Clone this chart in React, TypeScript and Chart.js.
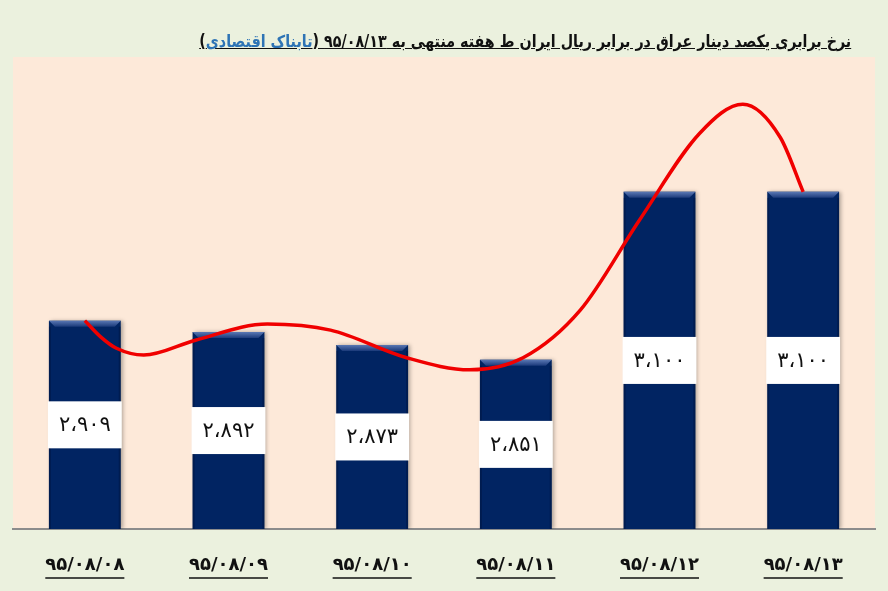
import { useEffect, useRef } from "react";
import { Chart, registerables } from "chart.js";

Chart.register(...registerables);

// dates (Persian digits) and rial price of 100 Iraqi dinars
const categories = ["۹۵/۰۸/۰۸", "۹۵/۰۸/۰۹", "۹۵/۰۸/۱۰", "۹۵/۰۸/۱۱", "۹۵/۰۸/۱۲", "۹۵/۰۸/۱۳"];
const rates = [2909, 2892, 2873, 2851, 3100, 3100];

// red freehand trend curve, x in category units (0 = first bar), y in rials
const curveX = [0, 0.11, 0.22, 0.41, 0.77, 1.27, 1.71, 2.24, 2.68, 3.05, 3.45, 3.86, 4.28, 4.58, 4.84, 5.0];
const curveY = [2909, 2885, 2868, 2858, 2880, 2904, 2895, 2854, 2836, 2854, 2925, 3058, 3187, 3230, 3181, 3100];

const Y_MIN = 2600;
const Y_MAX = 3300;

const FONT = '"DejaVu Sans", sans-serif';

const faDigits = "۰۱۲۳۴۵۶۷۸۹";
function toFa(n: number) {
  const s = n.toString().replace(/\B(?=(\d{3})+(?!\d))/g, "،");
  return s.replace(/\d/g, (d) => faDigits[+d]);
}

const decor = {
  id: "decor",
  beforeDraw(chart: any) {
    const { ctx, chartArea: a } = chart;
    ctx.save();
    ctx.fillStyle = "#ebf1de";
    ctx.fillRect(0, 0, chart.width, chart.height);
    ctx.fillStyle = "#fde9d9";
    ctx.fillRect(a.left, a.top, a.right - a.left, a.bottom - a.top);
    ctx.restore();
  },
  beforeDatasetDraw(chart: any, args: any) {
    if (args.meta.type !== "bar") return;
    const ctx = chart.ctx;
    ctx.save();
    ctx.shadowColor = "rgba(0,0,0,0.3)";
    ctx.shadowBlur = 4;
    ctx.shadowOffsetX = 2;
    ctx.shadowOffsetY = 0;
  },
  afterDatasetDraw(chart: any, args: any) {
    if (args.meta.type !== "bar") return;
    const ctx = chart.ctx;
    ctx.restore();
    ctx.save();
    const bottom = chart.chartArea.bottom;
    args.meta.data.forEach((el: any, i: number) => {
      const l = el.x - el.width / 2;
      const r = el.x + el.width / 2;
      const t = el.y;
      const base = Math.min(el.base, bottom);
      const b = 6;
      // top bevel
      const g = ctx.createLinearGradient(0, t, 0, t + b);
      g.addColorStop(0, "#5a78b4");
      g.addColorStop(1, "#1b3a7a");
      ctx.fillStyle = g;
      ctx.beginPath();
      ctx.moveTo(l, t);
      ctx.lineTo(r, t);
      ctx.lineTo(r - b, t + b);
      ctx.lineTo(l + b, t + b);
      ctx.closePath();
      ctx.fill();
      // darker side edges
      ctx.fillStyle = "rgba(0,10,40,0.3)";
      ctx.fillRect(l, t + b, 2, base - t - b);
      ctx.fillRect(r - 2, t + b, 2, base - t - b);
      // value box
      const mid = (t + base) / 2;
      const bh = 47;
      ctx.fillStyle = "#ffffff";
      ctx.fillRect(l - 1, mid - bh / 2, r - l + 2, bh);
      ctx.fillStyle = "#111111";
      ctx.font = "21px " + FONT;
      ctx.textAlign = "center";
      ctx.textBaseline = "middle";
      ctx.fillText(toFa(rates[i]), el.x, mid + 1);
    });
    ctx.restore();
  },
  afterDraw(chart: any) {
    const { ctx } = chart;
    const xs = chart.scales.x;
    ctx.save();
    ctx.font = "bold 18px " + FONT;
    ctx.strokeStyle = "#111111";
    ctx.lineWidth = 1.5;
    categories.forEach((c, i) => {
      const x = xs.getPixelForTick(i);
      const w = ctx.measureText(c).width;
      ctx.beginPath();
      ctx.moveTo(x - w / 2, 578);
      ctx.lineTo(x + w / 2, 578);
      ctx.stroke();
    });
    ctx.restore();
  },
};

function RateChart() {
  const canvasRef = useRef<HTMLCanvasElement>(null);

  useEffect(() => {
    if (!canvasRef.current) return;
    const chart = new Chart(canvasRef.current, {
      type: "bar",
      data: {
        labels: categories,
        datasets: [
          {
            type: "line",
            data: curveX.map((x, i) => ({ x, y: curveY[i] })),
            xAxisID: "xl",
            borderColor: "#f00000",
            borderWidth: 3.5,
            pointRadius: 0,
            cubicInterpolationMode: "monotone",
            fill: false,
            order: 0,
          } as any,
          {
            type: "bar",
            data: rates,
            backgroundColor: "#012462",
            barPercentage: 0.5,
            categoryPercentage: 1,
            grouped: false,
            base: Y_MIN,
            order: 1,
          } as any,
        ],
      },
      options: {
        responsive: true,
        maintainAspectRatio: false,
        animation: false,
        layout: { padding: { left: 13, right: 13, top: 57, bottom: 0 } },
        plugins: { legend: { display: false }, tooltip: { enabled: false }, title: { display: false } },
        scales: {
          x: {
            grid: { display: false },
            border: { display: true, color: "#8c8c8c", width: 2 },
            ticks: { color: "#111111", font: { family: FONT, size: 18, weight: "bold" }, padding: 18, maxRotation: 0 },
            afterFit: (scale: any) => {
              scale.height = 62;
            },
          },
          xl: { type: "linear", display: false, offset: false, min: -0.5, max: 5.5 },
          y: { display: false, min: Y_MIN, max: Y_MAX },
        },
      },
      plugins: [decor],
    });
    return () => chart.destroy();
  }, []);

  return <canvas ref={canvasRef} />;
}

export default function App() {
  return (
    <div style={{ position: "fixed", left: 0, top: 0, width: 888, height: 591, background: "#ebf1de", overflow: "hidden" }}>
      <div style={{ position: "absolute", inset: 0 }}>
        <RateChart />
      </div>
      <div
        dir="rtl"
        style={{
          position: "absolute",
          right: 37,
          top: 31,
          fontFamily: FONT,
          fontWeight: "bold",
          fontSize: 17,
          color: "#111111",
          textDecoration: "underline",
          whiteSpace: "nowrap",
          transform: "scaleX(0.84)",
          transformOrigin: "right center",
        }}
      >
        نرخ برابری یکصد دینار عراق در برابر ریال ایران ط هفته منتهی به ۹۵/۰۸/۱۳ (<span style={{ color: "#2e74b5" }}>تابناک اقتصادی</span>)
      </div>
    </div>
  );
}
